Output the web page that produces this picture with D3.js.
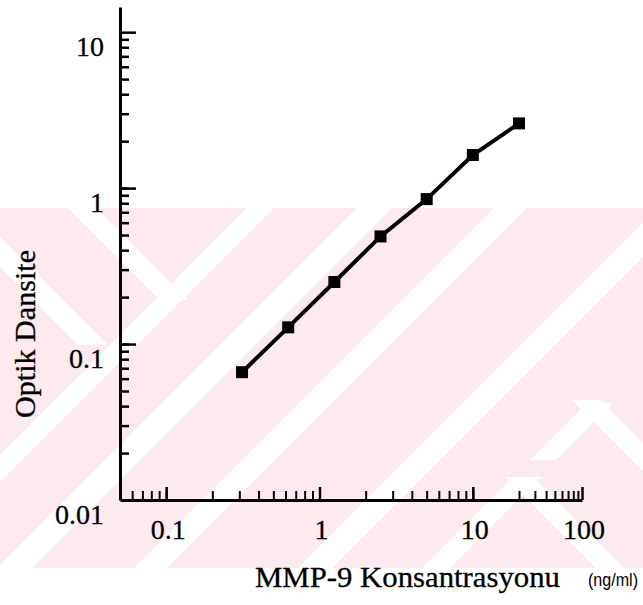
<!DOCTYPE html>
<html>
<head>
<meta charset="utf-8">
<script src="https://cdn.jsdelivr.net/npm/d3@7"></script>
<style>
  body { margin: 0; background: #fff; }
</style>
</head>
<body>
<div id="chart"></div>
<script>
// standard curve, MMP-9 (ng/ml) vs optical density
const concentrations = [0.3125, 0.625, 1.25, 2.5, 5, 10, 20];
const densities = [0.066, 0.128, 0.25, 0.49, 0.85, 1.63, 2.6];
const xTickLabels = [0.1, 1, 10, 100];
const yTickLabels = [0.01, 0.1, 1, 10];

const width = 643, height = 605;

const svg = d3.select("#chart").append("svg")
    .attr("width", width)
    .attr("height", height);

// pink watermark from the scan
const wm = { top: 208, bottom: 568 };
svg.append("clipPath").attr("id", "wmclip")
    .append("rect")
    .attr("x", 0).attr("y", wm.top)
    .attr("width", width).attr("height", wm.bottom - wm.top);

const wmg = svg.append("g").attr("clip-path", "url(#wmclip)");
wmg.append("rect")
    .attr("x", 0).attr("y", wm.top)
    .attr("width", width).attr("height", wm.bottom - wm.top)
    .attr("fill", "#fdeaee");

// "/" stripes: x + y between c1 and c2, over a y range
const slashBands = [[455, 482, 208, 568], [565, 600, 208, 568], [702, 735, 208, 568],
                    [866, 900, 208, 568], [990, 1018, 477, 568], [990, 1016, 403, 460]];
// "\" stripes: x - y between c1 and c2
const backBands = [[-140, -112, 208, 300], [-267, -237, 233, 345], [172, 200, 400, 470], [28, 56, 477, 568]];

slashBands.forEach(function(b) {
    wmg.append("polygon")
        .attr("points", [[b[0] - b[2], b[2]], [b[1] - b[2], b[2]], [b[1] - b[3], b[3]], [b[0] - b[3], b[3]]].join(" "))
        .attr("fill", "#fff");
});
backBands.forEach(function(b) {
    wmg.append("polygon")
        .attr("points", [[b[0] + b[2], b[2]], [b[1] + b[2], b[2]], [b[1] + b[3], b[3]], [b[0] + b[3], b[3]]].join(" "))
        .attr("fill", "#fff");
});

// scales (the scanned x axis is squeezed after 20)
const x = d3.scaleLog().domain([0.05, 20, 100]).range([120, 519, 582]);
const y = d3.scaleLog().domain([0.01, 14.5]).range([500, 7]);

function minorTicks(lo, hi) {
    let out = [];
    for (let d = 0.01; d <= 100; d *= 10) {
        for (let k = 1; k < 10; k++) {
            let v = +(d * k).toPrecision(3);
            if (v >= lo && v <= hi) out.push(v);
        }
    }
    return out;
}

const serif = "'Liberation Serif', 'Times New Roman', serif";

// x axis
svg.append("g")
    .attr("class", "x axis")
    .attr("transform", "translate(0," + 500 + ")")
    .call(d3.axisBottom(x).tickValues(minorTicks(0.06, 90)).tickSize(-9).tickSizeOuter(0).tickFormat(""))
    .call(g => g.select(".domain").attr("stroke-width", 3))
    .call(g => g.selectAll(".tick line").attr("stroke-width", 2));

svg.append("g")
    .attr("transform", "translate(0," + 500 + ")")
    .call(d3.axisBottom(x).tickValues(xTickLabels).tickSize(-13).tickFormat(""))
    .call(g => g.select(".domain").remove())
    .call(g => g.selectAll(".tick line").attr("stroke-width", 2.5));

// y axis
svg.append("g")
    .attr("class", "y axis")
    .attr("transform", "translate(120,0)")
    .call(d3.axisLeft(y).tickValues(minorTicks(0.02, 9)).tickSize(-9).tickSizeOuter(0).tickFormat(""))
    .call(g => g.select(".domain").attr("stroke-width", 3))
    .call(g => g.selectAll(".tick line").attr("stroke-width", 2.5));

svg.append("g")
    .attr("transform", "translate(120,0)")
    .call(d3.axisLeft(y).tickValues(yTickLabels.slice(1)).tickSize(-16).tickFormat(""))
    .call(g => g.select(".domain").remove())
    .call(g => g.selectAll(".tick line").attr("stroke-width", 2.5));

// tick labels
svg.append("g").selectAll("text")
    .data(yTickLabels)
    .join("text")
    .attr("x", 104)
    .attr("y", d => y(d) + 14)
    .attr("dy", "0.35em")
    .attr("text-anchor", "end")
    .attr("font-family", serif)
    .attr("font-size", 28)
    .attr("stroke", "#000").attr("stroke-width", 0.3)
    .text(d => d);

svg.append("g").selectAll("text")
    .data(xTickLabels)
    .join("text")
    .attr("x", d => x(d) + 2)
    .attr("y", 539)
    .attr("text-anchor", "middle")
    .attr("font-family", serif)
    .attr("font-size", 28)
    .attr("stroke", "#000").attr("stroke-width", 0.3)
    .text(d => d);

// axis titles
svg.append("text")
    .attr("transform", "translate(35,334) rotate(-90)")
    .attr("text-anchor", "middle")
    .attr("font-family", serif)
    .attr("font-size", 29)
    .attr("textLength", 168)
    .attr("lengthAdjust", "spacingAndGlyphs")
    .attr("stroke", "#000").attr("stroke-width", 0.3)
    .text("Optik Dansite");

svg.append("text")
    .attr("x", 255)
    .attr("y", 587)
    .attr("font-family", serif)
    .attr("font-size", 30)
    .attr("textLength", 305)
    .attr("lengthAdjust", "spacingAndGlyphs")
    .attr("stroke", "#000").attr("stroke-width", 0.3)
    .text("MMP-9 Konsantrasyonu");

svg.append("text")
    .attr("x", 588)
    .attr("y", 586)
    .attr("font-family", "'Liberation Sans', Arial, sans-serif")
    .attr("font-size", 18)
    .attr("textLength", 50)
    .attr("lengthAdjust", "spacingAndGlyphs")
    .text("(ng/ml)");

// curve
const points = concentrations.map((c, i) => ({ c: c, od: densities[i] }));

const line = d3.line()
    .x(d => x(d.c))
    .y(d => y(d.od));

svg.append("path")
    .datum(points)
    .attr("d", line)
    .attr("fill", "none")
    .attr("stroke", "#000")
    .attr("stroke-width", 4);

svg.append("g").selectAll("rect")
    .data(points)
    .join("rect")
    .attr("x", d => x(d.c) - 6)
    .attr("y", d => y(d.od) - 6)
    .attr("width", 12)
    .attr("height", 12)
    .attr("fill", "#000");
</script>
</body>
</html>
